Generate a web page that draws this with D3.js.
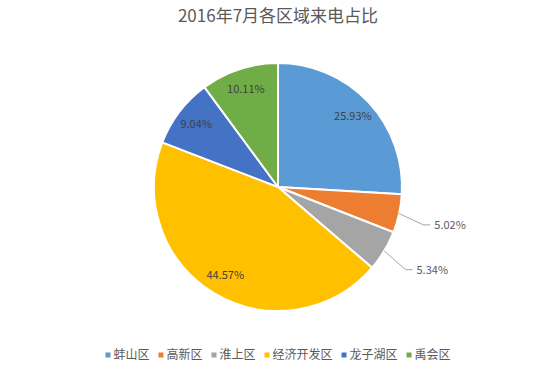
<!DOCTYPE html>
<html>
<head>
<meta charset="utf-8">
<script src="https://cdn.jsdelivr.net/npm/d3@7"></script>
<style>
body { margin: 0; background: #fff; }
text { font-family: "Noto Sans CJK SC", "Noto Sans", sans-serif; }
</style>
</head>
<body>
<div id="chart"></div>
<script>
// data
var regions = ["蚌山区", "高新区", "淮上区", "经济开发区", "龙子湖区", "禹会区"]
var shares = [25.93, 5.02, 5.34, 44.57, 9.04, 10.11]
var colors = ["#5B9BD5", "#ED7D31", "#A5A5A5", "#FFC000", "#4472C4", "#70AD47"]
var outsideLabel = [false, true, true, false, false, false]
var titleText = "2016年7月各区域来电占比"

var W = 550, H = 369
var cx = 278, cy = 187, r = 124

var svg = d3.select("#chart").append("svg")
  .attr("width", W).attr("height", H)

svg.append("text")
  .attr("x", cx).attr("y", 22)
  .attr("text-anchor", "middle")
  .style("font-size", "17px")
  .style("fill", "#595959")
  .text(titleText)

var data = regions.map(function(d, i) { return {name: d, value: shares[i], color: colors[i], outside: outsideLabel[i]} })

var pie = d3.pie().sort(null).value(function(d) { return d.value })
var arcs = pie(data)
var arc = d3.arc().innerRadius(0).outerRadius(r)
var labelArc = d3.arc().innerRadius(r * 0.83).outerRadius(r * 0.83)
var edgeArc = d3.arc().innerRadius(r).outerRadius(r)
var elbowArc = d3.arc().innerRadius(r * 1.2).outerRadius(r * 1.2)

var g = svg.append("g").attr("transform", "translate(" + cx + "," + cy + ")")

g.selectAll("path.slice")
  .data(arcs)
  .enter().append("path")
  .attr("class", "slice")
  .attr("d", arc)
  .style("fill", function(d) { return d.data.color })
  .style("stroke", "#fff")
  .style("stroke-width", 2)
  .style("stroke-linejoin", "round")

// labels inside the slices
g.selectAll("text.inlabel")
  .data(arcs.filter(function(d) { return !d.data.outside }))
  .enter().append("text")
  .attr("class", "inlabel")
  .attr("transform", function(d) { return "translate(" + labelArc.centroid(d) + ")" })
  .attr("text-anchor", "middle")
  .attr("dy", "0.35em")
  .style("font-size", "11px")
  .style("fill", "#404040")
  .text(function(d) { return d.data.value.toFixed(2) + "%" })

// small slices: label outside with leader line
var outs = arcs.filter(function(d) { return d.data.outside })
outs.forEach(function(d) {
  var p0 = edgeArc.centroid(d)
  var p1 = elbowArc.centroid(d)
  p1[1] = p1[1] + 6
  var p2 = [p1[0] + 7, p1[1]]
  g.append("polyline")
    .attr("points", [p0, p1, p2].map(function(p) { return p.join(",") }).join(" "))
    .style("fill", "none")
    .style("stroke", "#A6A6A6")
    .style("stroke-width", 1)
  g.append("text")
    .attr("x", p2[0] + 4).attr("y", p2[1])
    .attr("dy", "0.35em")
    .style("font-size", "11px")
    .style("fill", "#595959")
    .text(d.data.value.toFixed(2) + "%")
})

// legend, centred under the pie
var legend = svg.append("g").attr("class", "legend")
var items = legend.selectAll("g")
  .data(data)
  .enter().append("g")
items.append("rect")
  .attr("width", 5).attr("height", 5)
  .attr("y", -2.5)
  .style("fill", function(d) { return d.color })
items.append("text")
  .attr("x", 8)
  .attr("dy", "0.35em")
  .style("font-size", "12px")
  .style("fill", "#595959")
  .text(function(d) { return d.name })

var xpos = 0
items.each(function() {
  var w = 8 + d3.select(this).select("text").node().getComputedTextLength()
  d3.select(this).attr("transform", "translate(" + xpos + ",0)")
  xpos += w + 9
})
var total = xpos - 9
legend.attr("transform", "translate(" + (cx - total / 2) + ",355)")
</script>
</body>
</html>
